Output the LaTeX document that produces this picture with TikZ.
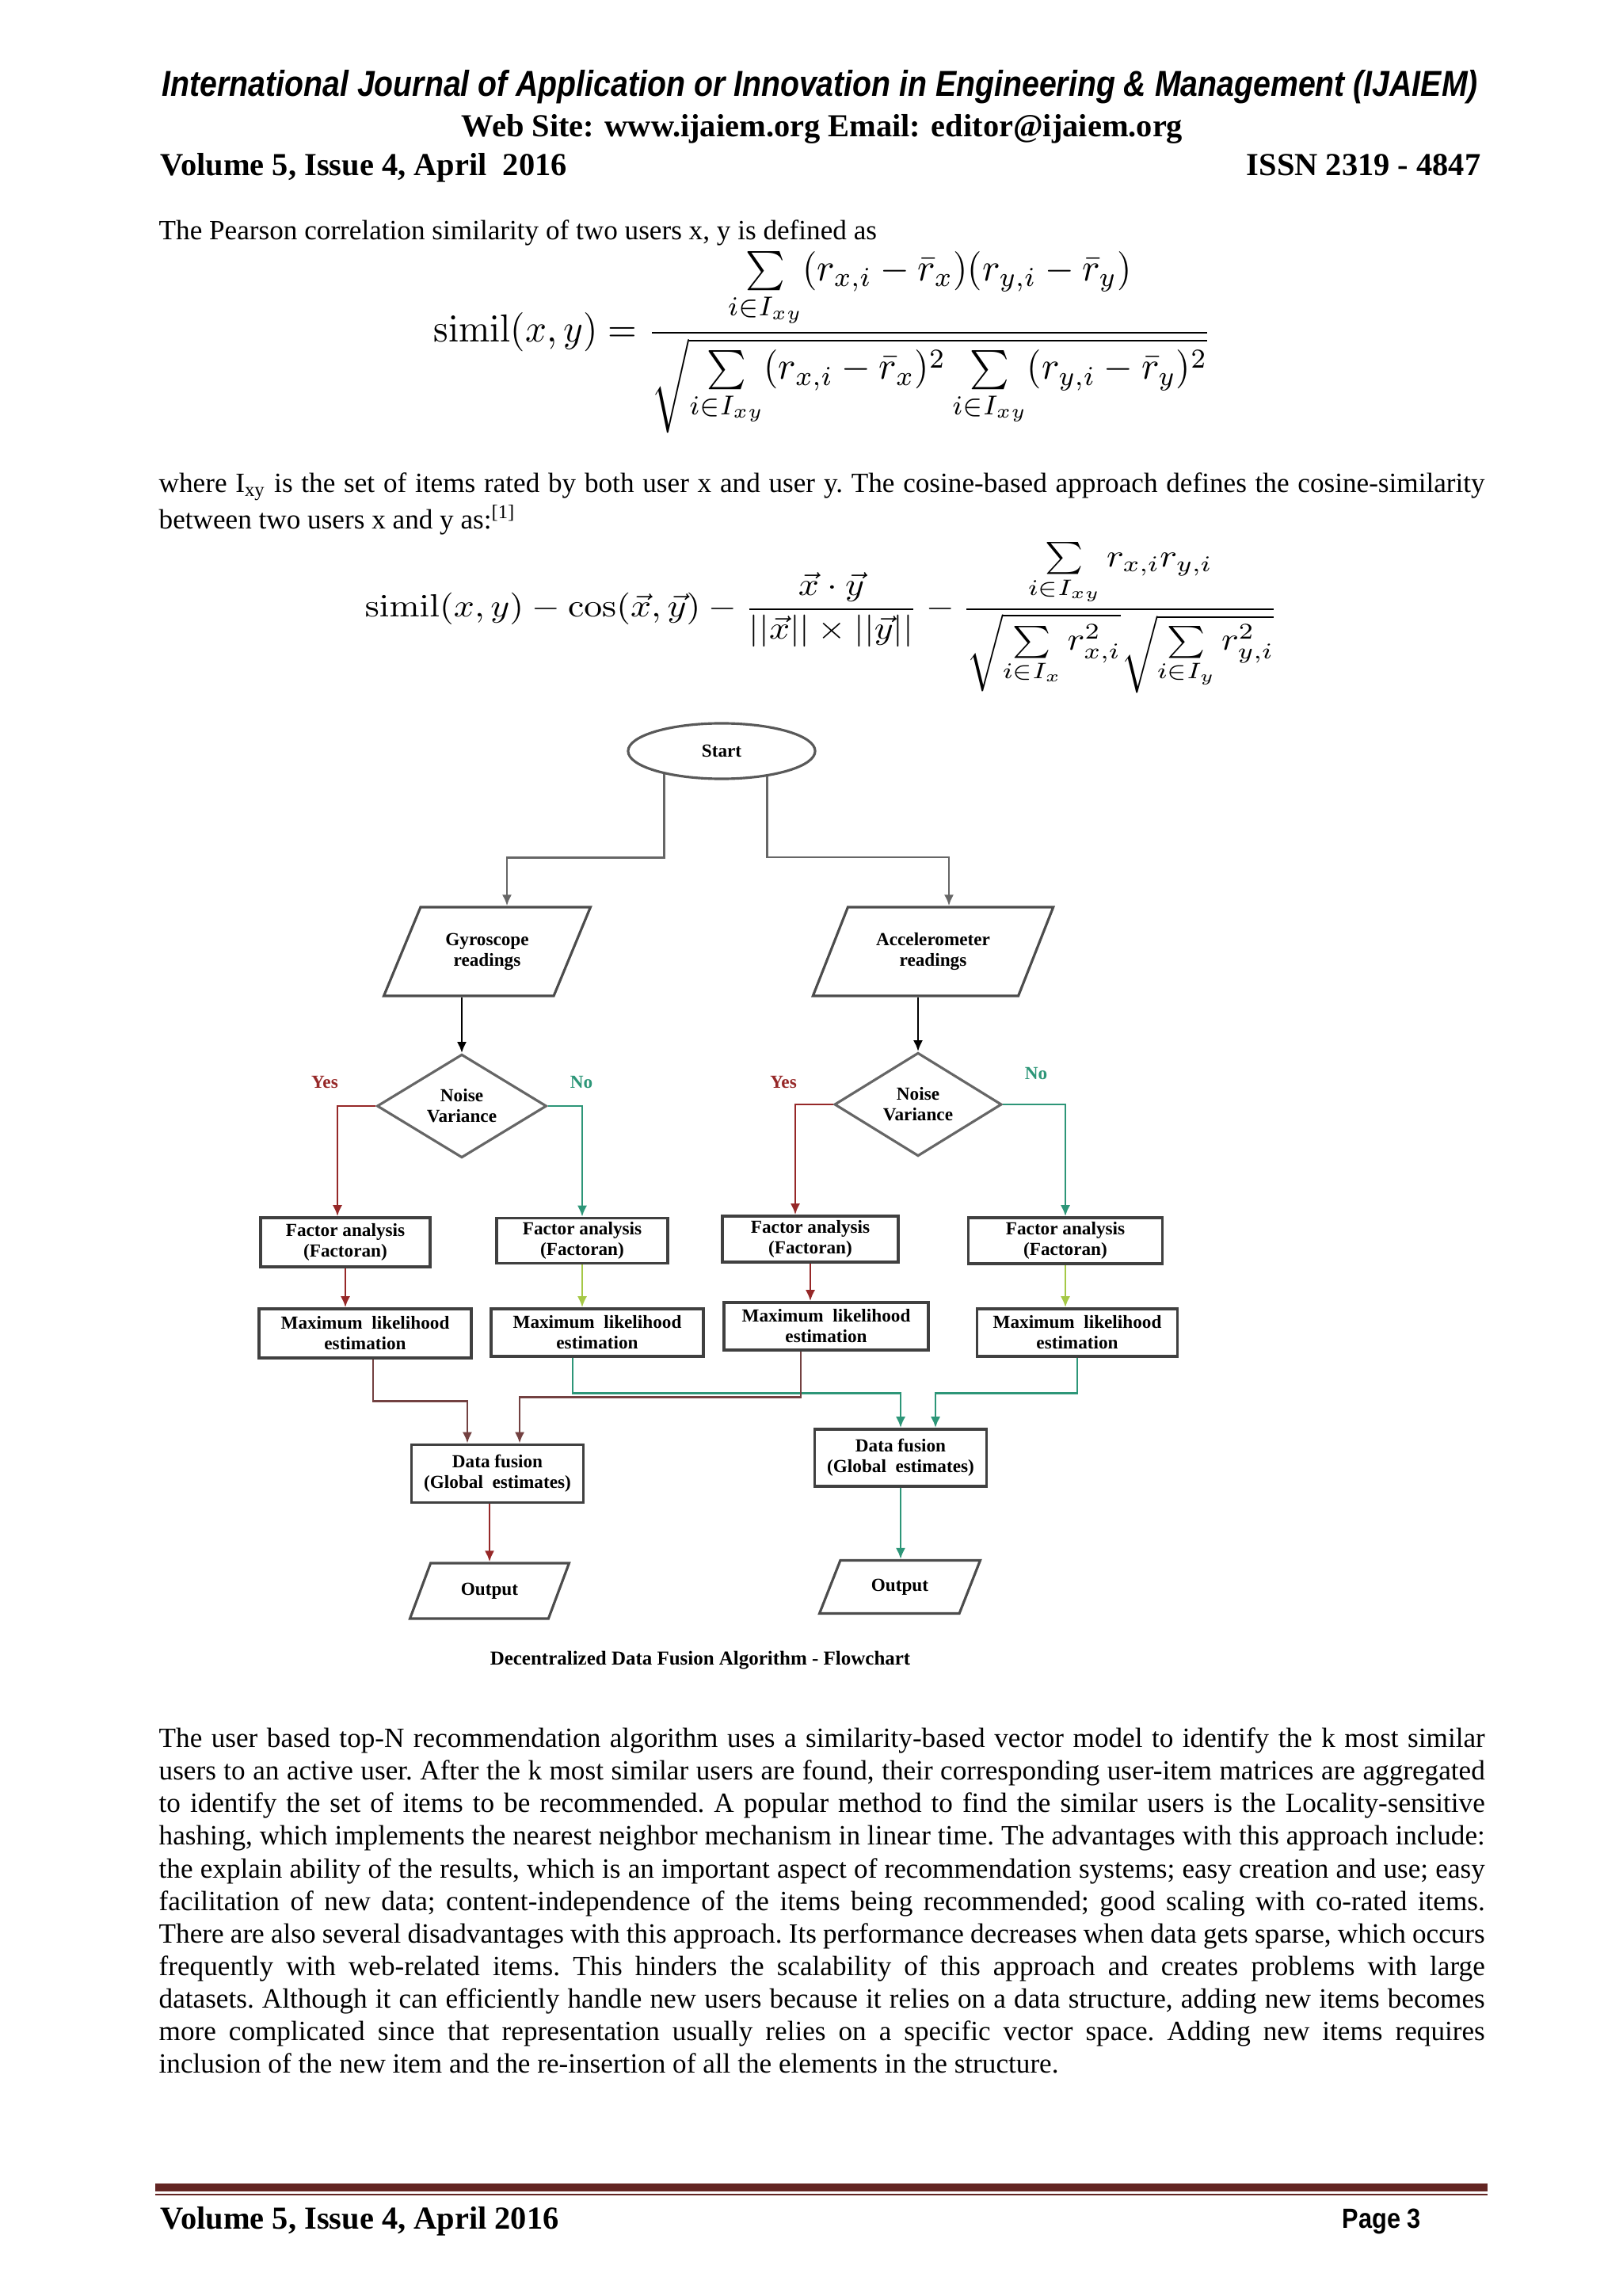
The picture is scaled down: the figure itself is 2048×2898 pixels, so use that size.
\documentclass[tikz,border=0pt]{standalone}
\usepackage[no-math]{fontspec}
\setmainfont{Liberation Serif}
\newfontfamily\headsans{Liberation Sans}
\usepackage{amsmath,amssymb}
\usepackage{graphicx}
\usepackage{xcolor}
\usetikzlibrary{positioning,calc,arrows.meta,shapes.geometric}

\definecolor{yescol}{RGB}{150,40,40}
\definecolor{nocol}{RGB}{45,150,120}
\definecolor{limecol}{RGB}{165,200,70}
\definecolor{browncol}{RGB}{115,65,65}
\definecolor{rulecol}{RGB}{99,37,35}
\newcommand\flowfont{\fontsize{6.6}{7.4}\selectfont\bfseries}
\newcommand\bodyfont{\fontsize{10}{11.7}\selectfont\frenchspacing}

\begin{document}
\begin{tikzpicture}[x=0.01cm,y=-0.01cm,
    >={Latex[length=4pt,width=3.5pt]},
    body/.style={anchor=north west,inner sep=0pt,text width=16.73cm,align=justify,font=\bodyfont},
    flowbox/.style={rectangle,draw=black!75,line width=1pt,fill=white,align=center,font=\flowfont,inner sep=1pt},
    io/.style={trapezium,trapezium left angle=58,trapezium right angle=122,trapezium stretches,draw=black!70,line width=0.9pt,fill=white,align=center,font=\flowfont,inner sep=0pt},
    decision/.style={diamond,draw=black!60,line width=0.9pt,fill=white,align=center,font=\flowfont,inner sep=0pt},
    arr/.style={->,line width=0.8pt},
    startline/.style={arr,draw=black!60},
    yesline/.style={arr,draw=yescol},
    noline/.style={arr,draw=nocol},
    limeline/.style={arr,draw=limecol},
    brownline/.style={arr,draw=browncol}]
\useasboundingbox (0,0) rectangle (2048,2898);

% page header
\node[anchor=base west,inner sep=0pt] (journal) at (204,122)
  {\resizebox{16.6cm}{3.3mm}{\headsans\bfseries\itshape International Journal of Application or Innovation in Engineering \& Management (IJAIEM)}};
\node[anchor=base,inner sep=0pt,font=\fontsize{11.5}{13}\selectfont\bfseries] (website) at (1038,173) {Web Site: www.ijaiem.org Email: editor@ijaiem.org};
\node[anchor=base west,inner sep=0pt,font=\fontsize{11.5}{13}\selectfont\bfseries] (volume) at (202,222) {Volume 5, Issue 4, April\ \ 2016};
\node[anchor=base east,inner sep=0pt,font=\fontsize{11.5}{13}\selectfont\bfseries] (issn) at (1870,222) {ISSN 2319 - 4847};

% similarity formulas
\node[anchor=base west,inner sep=0pt,font=\bodyfont] (pearson) at (200,303) {The Pearson correlation similarity of two users x, y is defined as};
\node[anchor=base west,inner sep=0pt,xscale=1.34,yscale=1.4] (pearsoneq) at (547,432)
  {$\displaystyle \mathrm{simil}(x,y)=\frac{\sum\limits_{i\in I_{xy}}(r_{x,i}-\bar{r}_x)(r_{y,i}-\bar{r}_y)}{\sqrt{\sum\limits_{i\in I_{xy}}(r_{x,i}-\bar{r}_x)^2\sum\limits_{i\in I_{xy}}(r_{y,i}-\bar{r}_y)^2}}$};
\node[body] (cosine) at (200,592) {\strut where I\textsubscript{xy} is the set of items rated by both user x and user y. The cosine-based approach defines the cosine-similarity\linebreak between two users x and y as:\textsuperscript{[1]}};
\node[anchor=base west,inner sep=0pt,xscale=1.3,yscale=1.15] (cosineeq) at (460,779)
  {$\displaystyle \mathrm{simil}(x,y)-\cos(\vec{x},\vec{y})-\frac{\vec{x}\cdot\vec{y}}{||\vec{x}||\times||\vec{y}||}-\frac{\sum\limits_{i\in I_{xy}}r_{x,i}r_{y,i}}{\sqrt{\sum\limits_{i\in I_x}r_{x,i}^2}\sqrt{\sum\limits_{i\in I_y}r_{y,i}^2}}$};

% flowchart
\node[ellipse,draw=black!65,line width=0.9pt,fill=white,minimum width=2.36cm,minimum height=0.7cm,inner sep=0pt,font=\flowfont] (start) at (911,948) {Start};
\node[io,minimum width=2.61cm,minimum height=1.12cm] (gyro) at (615,1201) {Gyroscope\\readings};
\node[io,minimum width=3.04cm,minimum height=1.12cm] (accel) at (1178,1201) {Accelerometer\\readings};
\node[decision,minimum width=2.14cm,minimum height=1.22cm] (noiseL) at (583,1396) {Noise\\Variance};
\node[decision,minimum width=2.11cm,minimum height=1.22cm] (noiseR) at (1159,1394) {Noise\\Variance};
\node[font=\flowfont,text=yescol] (yesL) at (410,1366) {Yes};
\node[font=\flowfont,text=nocol] (noL) at (734,1366) {No};
\node[font=\flowfont,text=yescol] (yesR) at (989,1366) {Yes};
\node[font=\flowfont,text=nocol] (noR) at (1308,1355) {No};

\node[flowbox,minimum width=2.14cm,minimum height=0.62cm] (fa1) at (436,1568) {Factor analysis\\(Factoran)};
\node[flowbox,minimum width=2.16cm,minimum height=0.57cm] (fa2) at (735,1566) {Factor analysis\\(Factoran)};
\node[flowbox,minimum width=2.22cm,minimum height=0.58cm] (fa3) at (1023,1564) {Factor analysis\\(Factoran)};
\node[flowbox,minimum width=2.45cm,minimum height=0.58cm] (fa4) at (1345,1566) {Factor analysis\\(Factoran)};
\node[flowbox,minimum width=2.68cm,minimum height=0.62cm] (mle1) at (461,1683) {Maximum\ \ likelihood\\estimation};
\node[flowbox,minimum width=2.68cm,minimum height=0.6cm] (mle2) at (754,1682) {Maximum\ \ likelihood\\estimation};
\node[flowbox,minimum width=2.58cm,minimum height=0.6cm] (mle3) at (1043,1674) {Maximum\ \ likelihood\\estimation};
\node[flowbox,minimum width=2.53cm,minimum height=0.6cm] (mle4) at (1360,1682) {Maximum\ \ likelihood\\estimation};
\node[flowbox,minimum width=2.17cm,minimum height=0.73cm] (fusion1) at (628,1860) {Data fusion\\(Global\ \ estimates)};
\node[flowbox,minimum width=2.17cm,minimum height=0.72cm] (fusion2) at (1137,1840) {Data fusion\\(Global\ \ estimates)};
\node[io,minimum width=2.01cm,minimum height=0.7cm] (out1) at (618,2008) {Output};
\node[io,minimum width=2.03cm,minimum height=0.67cm] (out2) at (1136,2003) {Output};
\node[font=\fontsize{7.1}{8}\selectfont\bfseries] (caption) at (884,2096) {Decentralized Data Fusion Algorithm - Flowchart};

\draw[startline] (start.202) -- ++(0,105) -| ([xshift=0.25cm]gyro.north);
\draw[startline] (start.331) -- ++(0,102) -| ([xshift=0.2cm]accel.north);
\draw[arr] (gyro.south -| noiseL.north) -- (noiseL.north);
\draw[arr] (accel.south -| noiseR.north) -- (noiseR.north);
\draw[yesline] (noiseL.west) -| ([xshift=-0.1cm]fa1.north);
\draw[noline] (noiseL.east) -| (fa2.north);
\draw[yesline] (noiseR.west) -| ([xshift=-0.19cm]fa3.north);
\draw[noline] (noiseR.east) -| (fa4.north);
\draw[yesline] (fa1.south) -- (fa1.south |- mle1.north);
\draw[limeline] (fa2.south) -- (fa2.south |- mle2.north);
\draw[yesline] (fa3.south) -- (fa3.south |- mle3.north);
\draw[limeline] (fa4.south) -- (fa4.south |- mle4.north);
\draw[brownline] ([xshift=0.1cm]mle1.south) -- ++(0,53) -| ([xshift=-0.38cm]fusion1.north);
\draw[noline] ([xshift=-0.31cm]mle2.south) -- ++(0,45) -| (fusion2.north);
\draw[brownline] ([xshift=-0.32cm]mle3.south) -- ++(0,58) -| ([xshift=0.28cm]fusion1.north);
\draw[noline] (mle4.south) -- ++(0,45) -| ([xshift=0.44cm]fusion2.north);
\draw[yesline] (fusion1.south -| out1.north) -- (out1.north);
\draw[noline] (fusion2.south) -- (fusion2.south |- out2.north);

% body text
\node[body] (topn) at (200,2176) {\strut The user based top-N recommendation algorithm uses a similarity-based vector model to identify the k most similar\linebreak
users to an active user. After the k most similar users are found, their corresponding user-item matrices are aggregated\linebreak
to identify the set of items to be recommended. A popular method to find the similar users is the Locality-sensitive\linebreak
hashing, which implements the nearest neighbor mechanism in linear time. The advantages with this approach include:\linebreak
the explain ability of the results, which is an important aspect of recommendation systems; easy creation and use; easy\linebreak
facilitation of new data; content-independence of the items being recommended; good scaling with co-rated items.\linebreak
There are also several disadvantages with this approach. Its performance decreases when data gets sparse, which occurs\linebreak
frequently with web-related items. This hinders the scalability of this approach and creates problems with large\linebreak
datasets. Although it can efficiently handle new users because it relies on a data structure, adding new items becomes\linebreak
more complicated since that representation usually relies on a specific vector space. Adding new items requires\linebreak
inclusion of the new item and the re-insertion of all the elements in the structure.};

% page footer
\fill[rulecol] (196,2756) rectangle (1878,2766);
\fill[rulecol] (196,2769) rectangle (1878,2771);
\node[anchor=base west,inner sep=0pt,font=\fontsize{11.5}{13}\selectfont\bfseries] (footvol) at (202,2813) {Volume 5, Issue 4, April 2016};
\node[anchor=base west,inner sep=0pt] (page) at (1694,2812) {\resizebox{0.99cm}{2.45mm}{\headsans\bfseries Page 3}};
\end{tikzpicture}
\end{document}
